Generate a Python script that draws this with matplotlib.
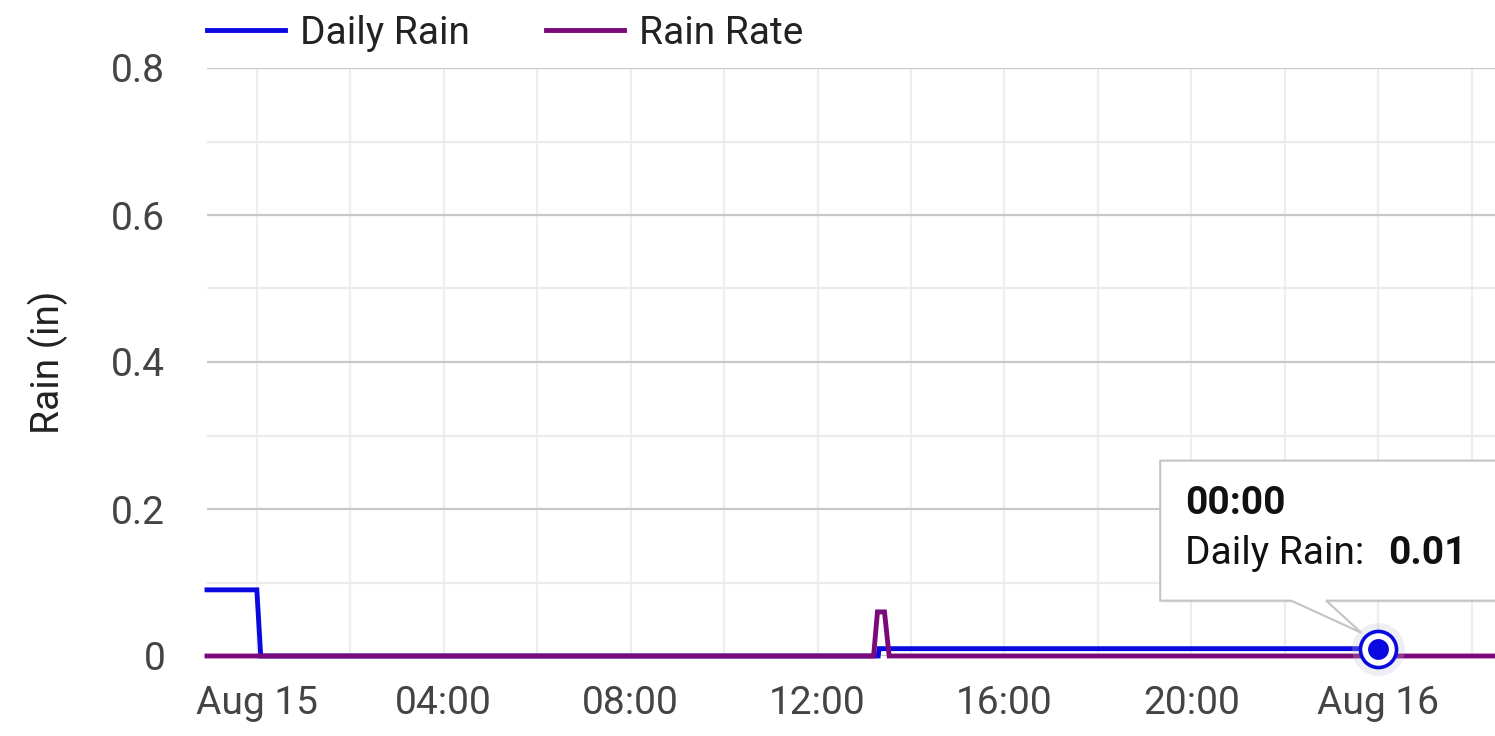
import matplotlib
matplotlib.use("Agg")
import matplotlib.pyplot as plt
import matplotlib.dates as mdates
import matplotlib.ticker as mticker
from matplotlib.patches import Polygon
import pandas as pd

# ---------------- data ----------------
daily_times = ["2024-08-14 22:56", "2024-08-15 00:00", "2024-08-15 00:05",
               "2024-08-15 13:18", "2024-08-15 13:19", "2024-08-16 00:00"]
daily_rain = [0.09, 0.09, 0.0, 0.0, 0.01, 0.01]

rate_times = ["2024-08-14 22:56", "2024-08-15 13:12", "2024-08-15 13:17",
              "2024-08-15 13:26", "2024-08-15 13:32", "2024-08-16 02:30"]
rain_rate = [0.0, 0.0, 0.06, 0.06, 0.0, 0.0]

x_start = "2024-08-14 22:56"
x_end = "2024-08-16 02:30"
y_ticks = [0, 0.2, 0.4, 0.6, 0.8]
series_names = ["Daily Rain", "Rain Rate"]
y_title = "Rain (in)"

# ---------------- style ----------------
BLUE = "#0a0ae0"
PURPLE = "#7a0a7a"
FONT = ["Roboto", "DejaVu Sans"]
FS = 28
plt.rcParams["font.family"] = FONT

dt_daily = pd.to_datetime(daily_times)
dt_rate = pd.to_datetime(rate_times)

W, H = 1495, 736
fig = plt.figure(figsize=(W / 100, H / 100), dpi=100)
ax = fig.add_axes([207 / W, 1 - 656 / H, 1 - 207 / W, (656 - 68) / H])

ax.plot(dt_daily, daily_rain, color=BLUE, lw=3.5, zorder=3,
        label=series_names[0], solid_joinstyle="miter", clip_on=False)
ax.plot(dt_rate, rain_rate, color=PURPLE, lw=3.5, zorder=4,
        label=series_names[1], solid_joinstyle="miter", clip_on=False)

ax.set_xlim(pd.Timestamp(x_start), pd.Timestamp(x_end))
ax.set_ylim(0, 0.8)

# ticks
ax.xaxis.set_major_locator(mdates.HourLocator(byhour=range(0, 24, 4)))
ax.xaxis.set_minor_locator(mdates.HourLocator(byhour=range(0, 24, 2)))


def xfmt(v, pos=None):
    d = mdates.num2date(v)
    if d.hour == 0 and d.minute == 0:
        return d.strftime("%b ") + str(d.day)
    return d.strftime("%H:%M")


ax.xaxis.set_major_formatter(mticker.FuncFormatter(xfmt))
ax.set_yticks(y_ticks)
ax.yaxis.set_minor_locator(mticker.MultipleLocator(0.1))
ax.yaxis.set_major_formatter(mticker.FuncFormatter(
    lambda v, p: "0" if abs(v) < 1e-9 else f"{v:.1f}"))

ax.tick_params(axis="both", which="both", length=0, labelsize=FS,
               labelcolor="#444444")
ax.tick_params(axis="x", pad=21)
ax.tick_params(axis="y", pad=30)

for s in ax.spines.values():
    s.set_visible(False)

ax.grid(axis="y", which="major", color="#c8c8c8", lw=1.6, zorder=0)
ax.grid(axis="y", which="minor", color="#ebebeb", lw=1.6, zorder=0)
ax.grid(axis="x", which="both", color="#eeeeee", lw=1.6, zorder=0)
ax.set_axisbelow(True)

ax.text((48 - 207) / 1288, 0.5, y_title, transform=ax.transAxes, rotation=90,
        ha="center", va="center", fontsize=FS, color="#222222")

leg = ax.legend(loc="center left", bbox_to_anchor=(0, (656 - 33) / 588),
                ncol=2, frameon=False, fontsize=FS, handlelength=2.0,
                handletextpad=0.4, columnspacing=1.95, borderpad=0,
                borderaxespad=0)
for t in leg.get_texts():
    t.set_color("#222222")
for h in leg.get_lines():
    h.set_linewidth(3.5)

# ---------------- tooltip at last Daily Rain point ----------------
px, py = dt_daily[-1], daily_rain[-1]
fig.canvas.draw()
ax_x, ax_y = ax.transData.transform((mdates.date2num(px), py))

ax.plot([px], [py], "o", ms=38, color="#b8c0d8", alpha=0.25, mew=0,
        zorder=6, clip_on=False)
ax.plot([px], [py], "o", ms=26, mfc="white", mec=BLUE, mew=2.6,
        zorder=7, clip_on=False)
ax.plot([px], [py], "o", ms=15, color=BLUE, mew=0, zorder=8, clip_on=False)

# box in display pixels relative to the anchor
left, right = ax_x - 218, ax_x + 200
top, bot = ax_y + 188, ax_y + 48
verts = [(left, top), (right, top), (right, bot), (ax_x - 52, bot),
         (ax_x - 17, ax_y + 16), (ax_x - 87, bot), (left, bot)]
shadow = Polygon([(vx + 2, vy - 2) for vx, vy in verts], closed=True,
                 transform=None, facecolor="#000000", alpha=0.06,
                 edgecolor="none", zorder=9)
box = Polygon(verts, closed=True, transform=None, facecolor="white",
              edgecolor="#c4c4c4", lw=1.5, zorder=10)
fig.add_artist(shadow)
fig.add_artist(box)

fig.text((left + 25) / W, (ax_y + 145) / H, px.strftime("%H:%M"),
         fontsize=FS, fontweight="bold", color="#111111", ha="left",
         va="center", zorder=11)
fig.text((left + 25) / W, (ax_y + 95) / H, series_names[0] + ":",
         fontsize=FS, color="#111111", ha="left", va="center", zorder=11)
fig.text((ax_x + 10) / W, (ax_y + 95) / H, f"{py:.2f}",
         fontsize=FS, fontweight="bold", color="#111111", ha="left",
         va="center", zorder=11)

fig.savefig("out.png", dpi=100)
